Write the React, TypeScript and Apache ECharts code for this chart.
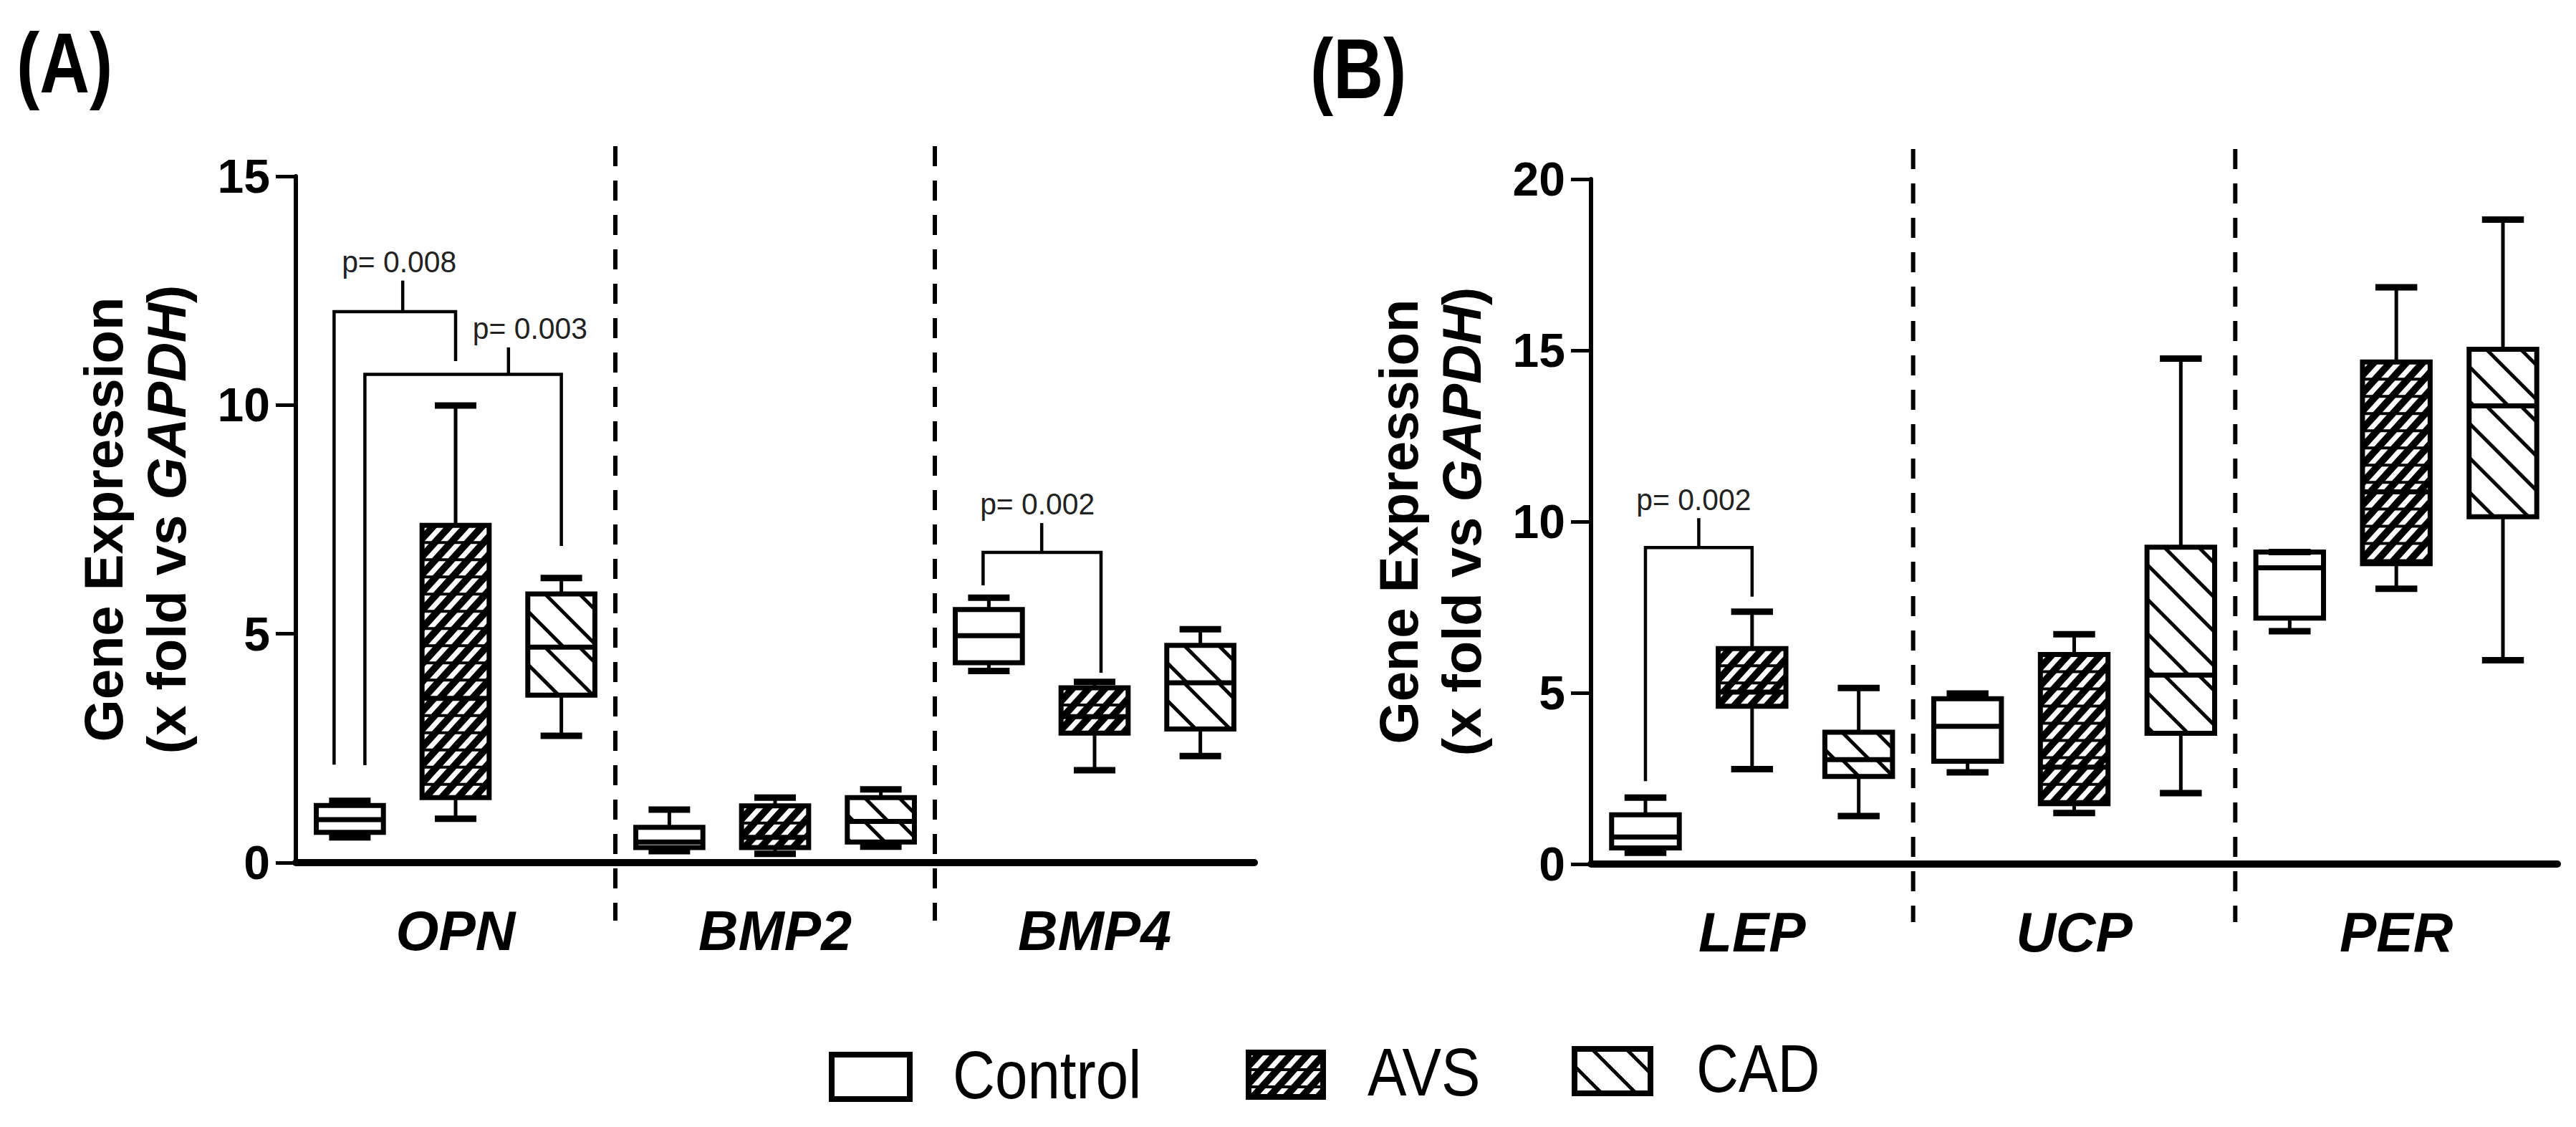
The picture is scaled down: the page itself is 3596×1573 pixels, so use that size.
import React, { useEffect, useRef } from "react";
import * as echarts from "echarts";

const SANS = "'Liberation Sans', Arial, sans-serif";

// ---------- data ----------
const categoriesA = ["OPN", "BMP2", "BMP4"];
const categoriesB = ["LEP", "UCP", "PER"];
const groupNames = ["Control", "AVS", "CAD"];

// each row: [min, Q1, median, Q3, max], one row per category
const controlA = [
  [0.55, 0.66, 0.94, 1.25, 1.35],
  [0.25, 0.33, 0.45, 0.77, 1.16],
  [4.19, 4.37, 4.96, 5.53, 5.79],
];
const avsA = [
  [0.96, 1.42, 3.59, 7.37, 9.99],
  [0.19, 0.33, 0.55, 1.24, 1.42],
  [2.02, 2.83, 3.19, 3.82, 3.95],
];
const cadA = [
  [2.77, 3.66, 4.71, 5.87, 6.22],
  [0.35, 0.45, 0.9, 1.42, 1.6],
  [2.33, 2.92, 3.93, 4.75, 5.1],
];
const controlB = [
  [0.33, 0.47, 0.79, 1.44, 1.94],
  [2.68, 3.0, 4.02, 4.83, 4.98],
  [6.8, 7.18, 8.65, 9.11, 9.11],
];
const avsB = [
  [2.77, 4.61, 5.02, 6.29, 7.37],
  [1.49, 1.76, 2.83, 6.12, 6.71],
  [8.04, 8.77, 10.87, 14.66, 16.84],
];
const cadB = [
  [1.4, 2.56, 3.05, 3.85, 5.14],
  [2.07, 3.82, 5.52, 9.25, 14.76],
  [5.95, 10.14, 13.38, 15.03, 18.82],
];

const yMaxA = 15;
const yMaxB = 20;
const yInterval = 5;

// significance brackets: category, groups compared, bracket value, leg end values, tick top value
const bracketsA = [
  { cat: 0, from: 0, to: 1, tickAt: 0.5, bar: 12.04, fromEnd: 2.14, toEnd: 10.96, top: 12.72, text: "p= 0.008" },
  { cat: 0, from: 0, to: 2, tickAt: 1.5, bar: 10.67, fromEnd: 2.13, toEnd: 6.92, top: 11.26, text: "p= 0.003" },
  { cat: 2, from: 0, to: 1, tickAt: 0.5, bar: 6.78, fromEnd: 6.06, toEnd: 4.15, top: 7.42, text: "p= 0.002" },
];
const bracketsB = [
  { cat: 0, from: 0, to: 1, tickAt: 0.5, bar: 9.24, fromEnd: 2.42, toEnd: 7.81, top: 10.1, text: "p= 0.002" },
];

// ---------- layout / style ----------
const layoutA = [
  { fromShift: -22, toShift: 0, labelDx: -5 },
  { fromShift: 21, toShift: 0, labelDx: 30 },
  { fromShift: -8, toShift: 9, labelDx: -6 },
];
const layoutB = [{ fromShift: 0, toShift: 0, labelDx: -7 }];

const SPREAD = 0.331;
const BOX_FRAC = 0.21;
const CAP_FRAC = 0.13;

type Seg = [number, number, number, number];

function hatch(x0: number, y0: number, x1: number, y1: number, slope: number, spacing: number, phase: number): Seg[] {
  const cs = [
    [x0, y0],
    [x1, y0],
    [x0, y1],
    [x1, y1],
  ].map(([x, y]) => y - slope * x);
  const cmin = Math.min(...cs);
  const cmax = Math.max(...cs);
  const base = y0 - slope * x0 + phase;
  const k0 = Math.ceil((cmin - base) / spacing);
  const k1 = Math.floor((cmax - base) / spacing);
  const out: Seg[] = [];
  for (let k = k0; k <= k1; k++) {
    const c = base + k * spacing;
    const xa = (y0 - c) / slope;
    const xb = (y1 - c) / slope;
    const lo = Math.max(x0, Math.min(xa, xb));
    const hi = Math.min(x1, Math.max(xa, xb));
    if (hi - lo > 0.5) out.push([lo, slope * lo + c, hi, slope * hi + c]);
  }
  return out;
}

function patternChildren(kind: number, x0: number, y0: number, x1: number, y1: number): any[] {
  const ch: any[] = [];
  if (y1 - y0 < 1) return ch;
  if (kind === 1) {
    hatch(x0, y0, x1, y1, -1.1, 25, 6).forEach((s) =>
      ch.push({ type: "line", shape: { x1: s[0], y1: s[1], x2: s[2], y2: s[3] }, style: { stroke: "#fff", lineWidth: 7 } })
    );
    for (let yy = y0 + 24; yy < y1 - 2; yy += 24) {
      ch.push({ type: "line", shape: { x1: x0, y1: yy, x2: x1, y2: yy }, style: { stroke: "#000", lineWidth: 4 } });
    }
  } else if (kind === 2) {
    hatch(x0, y0, x1, y1, 1, 48, 24).forEach((s) =>
      ch.push({ type: "line", shape: { x1: s[0], y1: s[1], x2: s[2], y2: s[3] }, style: { stroke: "#000", lineWidth: 5 } })
    );
  }
  return ch;
}

const makeBoxRenderer = (g: number) => (params: any, api: any) => {
  const c = api.value(0);
  const band = api.size([1, 0])[0];
  const cx = api.coord([c, 0])[0] + (g - 1) * band * SPREAD;
  const w = band * BOX_FRAC;
  const capW = band * CAP_FRAC;
  const ys = [1, 2, 3, 4, 5].map((i) => api.coord([c, api.value(i)])[1]); // min,q1,med,q3,max
  const x0 = cx - w / 2;
  const x1 = cx + w / 2;
  const children: any[] = [];
  children.push({
    type: "rect",
    shape: { x: x0, y: ys[3], width: w, height: ys[1] - ys[3] },
    style: { fill: g === 1 ? "#000" : "#fff", stroke: "none" },
  });
  children.push(...patternChildren(g, x0, ys[3], x1, ys[2]));
  children.push(...patternChildren(g, x0, ys[2], x1, ys[1]));
  children.push({ type: "line", shape: { x1: x0, y1: ys[2], x2: x1, y2: ys[2] }, style: { stroke: "#000", lineWidth: 7 } });
  children.push({
    type: "rect",
    shape: { x: x0, y: ys[3], width: w, height: ys[1] - ys[3] },
    style: { fill: "none", stroke: "#000", lineWidth: 7 },
  });
  children.push({ type: "line", shape: { x1: cx, y1: ys[3], x2: cx, y2: ys[4] }, style: { stroke: "#000", lineWidth: 5 } });
  children.push({ type: "line", shape: { x1: cx, y1: ys[1], x2: cx, y2: ys[0] }, style: { stroke: "#000", lineWidth: 5 } });
  children.push({ type: "line", shape: { x1: cx - capW / 2, y1: ys[4], x2: cx + capW / 2, y2: ys[4] }, style: { stroke: "#000", lineWidth: 9 } });
  children.push({ type: "line", shape: { x1: cx - capW / 2, y1: ys[0], x2: cx + capW / 2, y2: ys[0] }, style: { stroke: "#000", lineWidth: 9 } });
  return { type: "group", children };
};

const makeSeparatorRenderer = (yMax: number) => (params: any, api: any) => {
  const i = api.value(0);
  const band = api.size([1, 0])[0];
  const x = api.coord([i, 0])[0] + band / 2;
  const yTop = api.coord([i, yMax])[1] - 42;
  const yBot = api.coord([i, 0])[1] + 81;
  return {
    type: "line",
    shape: { x1: x, y1: yTop, x2: x, y2: yBot },
    style: { stroke: "#000", lineWidth: 6, lineDash: [28, 20] },
  };
};

const makeBracketRenderer = (list: any[], layout: any[]) => (params: any, api: any) => {
  const b = list[params.dataIndex];
  const lay = layout[params.dataIndex];
  const band = api.size([1, 0])[0];
  const base = api.coord([b.cat, 0])[0];
  const gx = (g: number) => base + (g - 1) * band * SPREAD;
  const yv = (v: number) => api.coord([b.cat, v])[1];
  const xl = gx(b.from) + lay.fromShift;
  const xr = gx(b.to) + lay.toShift;
  const yBar = yv(b.bar);
  const xt = gx(b.tickAt);
  const yTop = yv(b.top);
  return {
    type: "group",
    children: [
      {
        type: "polyline",
        shape: { points: [[xl, yv(b.fromEnd)], [xl, yBar], [xr, yBar], [xr, yv(b.toEnd)]] },
        style: { stroke: "#000", lineWidth: 4.5, fill: "none" },
      },
      { type: "line", shape: { x1: xt, y1: yBar, x2: xt, y2: yTop }, style: { stroke: "#000", lineWidth: 4.5 } },
      {
        type: "text",
        x: xt + lay.labelDx,
        y: yTop - 5,
        scaleX: 0.95,
        style: {
          text: b.text,
          fill: "#222",
          font: `43px ${SANS}`,
          align: "center",
          verticalAlign: "bottom",
          textAlign: "center",
          textVerticalAlign: "bottom",
        },
      },
    ],
  };
};

function legendBox(kind: number, x: number, y: number, w: number, h: number): any {
  const children: any[] = [
    { type: "rect", shape: { x, y, width: w, height: h }, style: { fill: kind === 1 ? "#000" : "#fff", stroke: "none" } },
    ...patternChildren(kind, x, y, x + w, y + h),
    { type: "rect", shape: { x, y, width: w, height: h }, style: { fill: "none", stroke: "#000", lineWidth: 8 } },
  ];
  return { type: "group", children };
}

function legendText(text: string, x: number, y: number): any {
  return {
    type: "text",
    x,
    y,
    scaleX: 0.86,
    style: {
      text,
      fill: "#000",
      font: `95px ${SANS}`,
      align: "left",
      verticalAlign: "middle",
      textAlign: "left",
      textVerticalAlign: "middle",
    },
  };
}

function panelLabel(text: string, x: number, y: number): any {
  return {
    type: "text",
    x,
    y,
    scaleX: 0.82,
    style: {
      text,
      fill: "#000",
      font: `bold 118px ${SANS}`,
      align: "left",
      verticalAlign: "middle",
      textAlign: "left",
      textVerticalAlign: "middle",
    },
  };
}

function axisPair(idx: number, cats: string[], yMax: number) {
  const xAxis = {
    type: "category",
    gridIndex: idx,
    data: cats,
    boundaryGap: true,
    axisLine: { show: true, lineStyle: { color: "#000", width: 10 } },
    axisTick: { show: false },
    splitLine: { show: false },
    axisLabel: {
      interval: 0,
      margin: 56,
      color: "#000",
      fontSize: 77,
      fontWeight: "bold",
      fontStyle: "italic",
      fontFamily: SANS,
    },
  };
  const yAxis = {
    type: "value",
    gridIndex: idx,
    min: 0,
    max: yMax,
    interval: yInterval,
    axisLine: { show: true, lineStyle: { color: "#000", width: 6 } },
    axisTick: { show: true, length: 28, lineStyle: { color: "#000", width: 5 } },
    splitLine: { show: false },
    axisLabel: { margin: 36, color: "#000", fontSize: 66, fontWeight: "bold", fontFamily: SANS },
    name: "Gene Expression\n(x fold vs {it|GAPDH})",
    nameLocation: "middle",
    nameRotate: 90,
    nameGap: 137,
    nameTextStyle: {
      color: "#000",
      fontSize: 76,
      fontWeight: "bold",
      fontFamily: SANS,
      lineHeight: 88,
      rich: {
        it: { color: "#000", fontSize: 76, fontWeight: "bold", fontStyle: "italic", fontFamily: SANS, lineHeight: 88 },
      },
    },
  };
  return { xAxis, yAxis };
}

function toRows(rows: number[][]) {
  return rows.map((r, i) => [i, ...r]);
}

function buildOption() {
  const pA = axisPair(0, categoriesA, yMaxA);
  const pB = axisPair(1, categoriesB, yMaxB);
  const panels = [
    { groups: [controlA, avsA, cadA], cats: categoriesA, yMax: yMaxA, brackets: bracketsA, layout: layoutA },
    { groups: [controlB, avsB, cadB], cats: categoriesB, yMax: yMaxB, brackets: bracketsB, layout: layoutB },
  ];
  const series: any[] = [];
  panels.forEach((p, pi) => {
    series.push({
      type: "custom",
      name: "separator",
      xAxisIndex: pi,
      yAxisIndex: pi,
      silent: true,
      z: 1,
      data: p.cats.slice(0, -1).map((_, i) => [i, 0]),
      renderItem: makeSeparatorRenderer(p.yMax),
    });
    p.groups.forEach((rows, g) => {
      series.push({
        type: "custom",
        name: groupNames[g],
        xAxisIndex: pi,
        yAxisIndex: pi,
        z: 3,
        data: toRows(rows),
        renderItem: makeBoxRenderer(g),
      });
    });
    series.push({
      type: "custom",
      name: "significance",
      xAxisIndex: pi,
      yAxisIndex: pi,
      silent: true,
      z: 4,
      data: p.brackets.map((b) => [b.cat, b.bar]),
      renderItem: makeBracketRenderer(p.brackets, p.layout),
    });
  });

  return {
    animation: false,
    backgroundColor: "#fff",
    textStyle: { fontFamily: SANS },
    grid: [
      { left: 413, top: 246, width: 1338, height: 958, containLabel: false, outerBoundsMode: "none" },
      { left: 2221, top: 250, width: 1349, height: 956, containLabel: false, outerBoundsMode: "none" },
    ],
    xAxis: [pA.xAxis, pB.xAxis],
    yAxis: [pA.yAxis, pB.yAxis],
    series,
    graphic: [
      panelLabel("(A)", 23, 88),
      panelLabel("(B)", 1829, 96),
      legendBox(0, 1161, 1472, 109, 62),
      legendText("Control", 1330, 1500),
      legendBox(1, 1743, 1469, 104, 62),
      legendText("AVS", 1909, 1496),
      legendBox(2, 2198, 1464, 106, 62),
      legendText("CAD", 2368, 1491),
    ],
  };
}

export default function App() {
  const ref = useRef<HTMLDivElement>(null);
  useEffect(() => {
    document.body.style.margin = "0";
    const chart = echarts.init(ref.current as HTMLDivElement, null, { renderer: "svg" });
    chart.setOption(buildOption() as any);
    return () => chart.dispose();
  }, []);
  return (
    <div
      ref={ref}
      style={{ position: "absolute", left: 0, top: 0, width: 3596, height: 1573, background: "#fff" }}
    />
  );
}
